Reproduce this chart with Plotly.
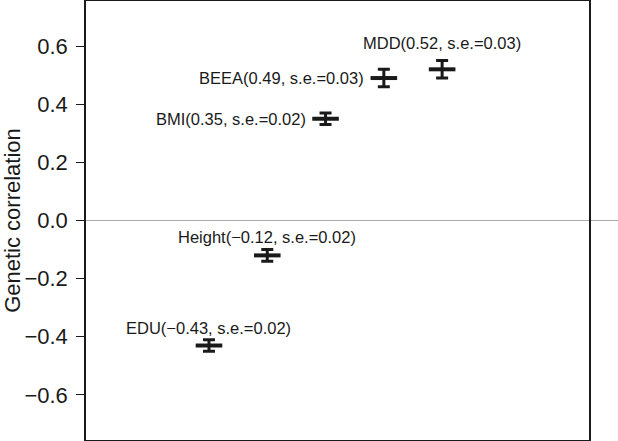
import plotly.graph_objects as go

# genetic correlation estimates with standard errors
traits = ["EDU", "Height", "BMI", "BEEA", "MDD"]
rg = [-0.43, -0.12, 0.35, 0.49, 0.52]
se = [0.02, 0.02, 0.02, 0.03, 0.03]
xpos = [1, 2, 3, 4, 5]
yticks = [-0.6, -0.4, -0.2, 0.0, 0.2, 0.4, 0.6]

ink = "#1a1a1a"
font = "Liberation Sans, Arial, Helvetica, sans-serif"

fig = go.Figure()
fig.add_trace(go.Scatter(
    x=xpos, y=rg,
    mode="markers",
    marker=dict(symbol="line-ew", size=19, line=dict(width=4, color=ink)),
    error_y=dict(type="data", array=se, visible=True,
                 thickness=3, width=6, color=ink),
    showlegend=False,
    hoverinfo="skip",
))

# label placement: left of point or above it
place = {"EDU": "above", "Height": "above", "BMI": "left",
         "BEEA": "left", "MDD": "above"}
for t, x, y, s in zip(traits, xpos, rg, se):
    txt = f"{t}({y:.2f}, s.e.={s:.2f})".replace("-", "\u2212")
    if place[t] == "left":
        fig.add_annotation(x=x, y=y, text=txt, showarrow=False,
                           xanchor="right", yanchor="middle", xshift=-18,
                           font=dict(size=16.5, color=ink, family=font))
    else:
        fig.add_annotation(x=x, y=y, text=txt, showarrow=False,
                           xanchor="center", yanchor="middle",
                           yshift=18 if t != "MDD" else 26,
                           font=dict(size=16.5, color=ink, family=font))

# zero reference line, runs past the right frame
fig.add_shape(type="line", xref="paper", yref="y", x0=-0.005, x1=1.06,
              y0=0, y1=0, line=dict(color="#aaaaaa", width=1), layer="below")

fig.update_layout(
    width=618, height=441,
    margin=dict(l=86, r=29, t=1, b=1, autoexpand=False),
    plot_bgcolor="white", paper_bgcolor="white",
    font=dict(family=font, color=ink),
)
fig.update_xaxes(range=[-1.11, 7.52], showticklabels=False, ticks="",
                 showgrid=False, zeroline=False,
                 showline=True, mirror=True, linecolor=ink, linewidth=1.5)
fig.update_yaxes(range=[-0.755, 0.755], tickvals=yticks,
                 tickformat=".1f", ticks="outside", ticklen=8, tickwidth=1.2,
                 tickcolor=ink, tickfont=dict(size=22, color=ink),
                 ticklabelstandoff=4, automargin=False,
                 showgrid=False, zeroline=False,
                 showline=True, mirror=True, linecolor=ink, linewidth=1.5,
                 title=dict(text="Genetic correlation", font=dict(size=22),
                            standoff=8))

# drop the browser's default page margin so the figure sits at the corner
fig.write_html("out.html", config={"displayModeBar": False},
               post_script="document.body.style.margin='0';")
